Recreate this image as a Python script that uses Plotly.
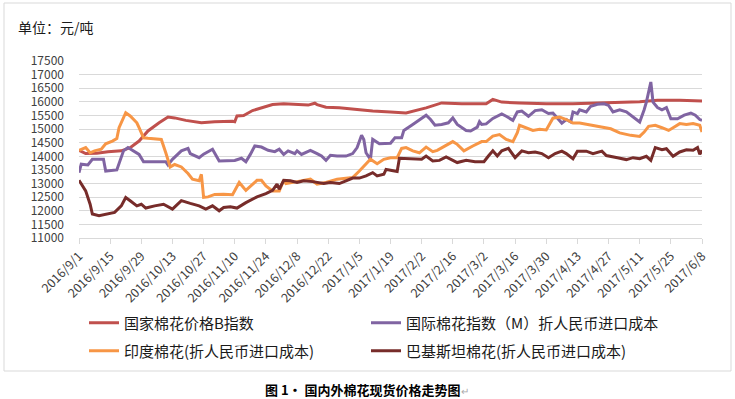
import pandas as pd
import plotly.graph_objects as go

start_date = "2016-09-01"

# 国家棉花价格B指数 (days since 2016-09-01, 元/吨)
days_cn = [0, 3, 8, 13, 19, 23, 27, 31, 36, 40, 43, 48, 55, 61, 69, 70, 71, 74, 78, 83, 87, 92,
           98, 103, 106, 107, 111, 117, 125, 132, 140, 147, 156, 163, 172, 183, 186, 190, 198,
           210, 222, 237, 252, 260, 270, 280]
val_cn = [14220, 14100, 14110, 14170, 14200, 14320, 14560, 14930, 15230, 15440, 15410, 15320,
          15230, 15270, 15290, 15270, 15480, 15500, 15680, 15800, 15900, 15930, 15900, 15880,
          15950, 15900, 15800, 15780, 15720, 15660, 15630, 15590, 15780, 15960, 15930, 15930,
          16090, 15990, 15960, 15930, 15930, 15970, 16000, 16060, 16060, 16030]

# 国际棉花指数（M）折人民币进口成本
days_intl = [0, 1, 4, 6, 11, 12, 17, 20, 22, 27, 29, 39, 40, 42, 46, 49, 50, 54, 56, 60, 63, 67,
             70, 73, 75, 77, 79, 82, 85, 88, 90, 92, 94, 97, 98, 100, 104, 107, 109, 111, 113,
             116, 120, 123, 125, 127, 128, 129, 131, 132, 135, 140, 142, 145, 146, 150, 153, 156,
             158, 160, 163, 166, 168, 170, 174, 176, 179, 180, 181, 183, 186, 190, 192, 195, 197,
             199, 202, 205, 208, 211, 213, 216, 217, 219, 221, 222, 224, 225, 228, 230, 233, 236,
             238, 240, 243, 246, 248, 251, 252, 254, 255, 257, 258, 260, 262, 264, 266, 269, 272,
             275, 277, 279, 280]
val_intl = [13400, 13710, 13680, 13890, 13890, 13460, 13500, 14200, 14320, 14070, 13800, 13800,
            13680, 13890, 14200, 14290, 14100, 13950, 14080, 14260, 13830, 13850, 13850, 13930,
            13800, 14070, 14380, 14340, 14220, 14170, 14260, 14070, 14200, 14100, 14200, 14070,
            14220, 14100, 14010, 13850, 14040, 14010, 14010, 14100, 14320, 14770, 14620, 14130,
            13890, 14620, 14460, 14480, 14680, 14680, 14950, 15170, 15350, 15510, 15350, 15140,
            15170, 15230, 15410, 15170, 14950, 14930, 15070, 15270, 15170, 15190, 15390, 15560,
            15470, 15320, 15630, 15660, 15470, 15680, 15710, 15570, 15590, 15320, 15220, 15350,
            15260, 15630, 15570, 15710, 15630, 15840, 15910, 15930, 15870, 15630, 15710, 15630,
            15510, 15320, 15260, 15710, 15990, 16730, 15990, 15790, 15710, 15790, 15380, 15380,
            15510, 15590, 15510, 15350, 15320]

# 印度棉花(折人民币进口成本)
days_in = [0, 3, 5, 7, 10, 12, 15, 17, 18, 21, 23, 26, 27, 29, 31, 37, 39, 41, 43, 46, 49, 51,
           54, 55, 56, 58, 61, 65, 69, 70, 72, 75, 78, 80, 82, 84, 87, 90, 92, 93, 98, 104, 107,
           111, 116, 120, 123, 126, 129, 131, 134, 137, 140, 143, 145, 147, 150, 153, 156, 159,
           161, 165, 168, 170, 173, 177, 181, 183, 186, 189, 192, 195, 197, 198, 201, 204, 207,
           210, 213, 216, 219, 222, 225, 230, 234, 239, 243, 248, 252, 254, 256, 259, 262, 265,
           267, 270, 273, 276, 279, 280]
val_in = [14220, 14320, 14130, 14200, 14260, 14460, 14560, 14650, 15050, 15600, 15480, 15230,
          15050, 14680, 14660, 14620, 14130, 13610, 13700, 13610, 13370, 13160, 13100, 13340,
          12490, 12510, 12600, 12610, 12590, 12730, 13040, 12750, 12980, 13120, 13120, 12910,
          12730, 12730, 13120, 13000, 13070, 13160, 12980, 13040, 13160, 13200, 13220, 13460,
          13700, 13890, 13730, 13890, 13950, 13950, 14290, 14320, 14200, 14130, 14340, 14170,
          14220, 14410, 14540, 14440, 14200, 14380, 14540, 14540, 14740, 14800, 14620, 14540,
          14870, 15140, 15050, 14950, 14990, 14970, 15400, 15440, 15350, 15220, 15220, 15140,
          15080, 15010, 14860, 14770, 14730, 14890, 15100, 15140, 15050, 14950, 15050, 15200,
          15170, 15200, 15140, 14890]

# 巴基斯坦棉花(折人民币进口成本)
days_pk = [0, 3, 5, 6, 9, 12, 16, 19, 21, 23, 26, 28, 30, 34, 38, 42, 46, 50, 54, 57, 60, 63,
           65, 68, 71, 75, 80, 84, 87, 89, 90, 92, 95, 98, 101, 105, 110, 113, 117, 120, 123,
           126, 129, 132, 134, 137, 138, 140, 142, 143, 144, 150, 154, 156, 159, 162, 165, 170,
           174, 178, 182, 184, 186, 188, 190, 193, 196, 199, 202, 205, 208, 211, 214, 217, 219,
           222, 224, 228, 231, 235, 237, 242, 246, 249, 252, 255, 257, 259, 262, 264, 267, 270,
           273, 276, 278, 279, 280]
val_pk = [13120, 12730, 12240, 11880, 11820, 11880, 11940, 12180, 12490, 12370, 12180, 12240,
          12100, 12180, 12240, 12060, 12370, 12270, 12180, 12060, 12180, 12000, 12120, 12150,
          12100, 12300, 12510, 12630, 12750, 12980, 12790, 13120, 13100, 13040, 13100, 13070,
          13000, 13040, 13000, 13100, 13200, 13200, 13280, 13400, 13280, 13340, 13520, 13490,
          13460, 13440, 13930, 13890, 13890, 14010, 13830, 13850, 13980, 13770, 13850, 13800,
          13800, 14010, 14200, 14010, 14200, 14290, 13950, 14200, 14130, 14160, 14100, 13950,
          14100, 14190, 14100, 13910, 14190, 14190, 14100, 14190, 14030, 13950, 13880, 13950,
          13910, 14000, 13850, 14320, 14240, 14280, 14000, 14160, 14240, 14220, 14320, 14070,
          14220]

series_names = ["国家棉花价格B指数", "国际棉花指数（M）折人民币进口成本",
                "印度棉花(折人民币进口成本)", "巴基斯坦棉花(折人民币进口成本)"]
series_colors = ["#C0504D", "#8064A2", "#F79646", "#772C2A"]
series_legends = ["legend", "legend2", "legend3", "legend4"]

unit_label = "单位：元/吨"
caption = "图 1· 国内外棉花现货价格走势图"

FONT = "Noto Sans CJK SC, Noto Sans, sans-serif"
base = pd.Timestamp(start_date)


def to_dates(days):
    return base + pd.to_timedelta(days, unit="D")


fig = go.Figure()
for d, v, name, color, lg in zip([days_cn, days_intl, days_in, days_pk],
                                 [val_cn, val_intl, val_in, val_pk],
                                 series_names, series_colors, series_legends):
    fig.add_trace(go.Scatter(x=to_dates(d), y=v, mode="lines", name=name, showlegend=True,
                             line=dict(color=color, width=3), legend=lg))

W, H = 623, 177  # plot area px
L, T = 79, 61


def px_x(px):
    return (px - L) / W


def px_y(py):
    return (T + H - py) / H


legend_common = dict(orientation="h", xanchor="left", yanchor="middle", visible=True,
                     font=dict(family=FONT, size=15, color="#1a1a1a"),
                     bgcolor="rgba(0,0,0,0)", itemwidth=30)

fig.update_layout(
    width=735, height=399,
    showlegend=True,
    margin=dict(l=L, r=735 - L - W, t=T, b=399 - T - H),
    paper_bgcolor="white", plot_bgcolor="white",
    font=dict(family=FONT, color="#404040"),
    legend=dict(x=px_x(84), y=px_y(323), **legend_common),
    legend2=dict(x=px_x(366), y=px_y(323), **legend_common),
    legend3=dict(x=px_x(84), y=px_y(351), **legend_common),
    legend4=dict(x=px_x(366), y=px_y(351), **legend_common),
    xaxis=dict(type="date", range=[start_date, "2017-06-08"],
               tick0=start_date, dtick=14 * 86400000, tickformat="%Y/%-m/%-d",
               tickangle=-45, showgrid=False, showline=True, linecolor="#d9d9d9",
               ticks="outside", ticklen=5, tickcolor="#d9d9d9",
               tickfont=dict(family=FONT, size=12.5, color="#404040")),
    yaxis=dict(range=[11000, 17500], dtick=500, tick0=11000, tickformat="d",
               showgrid=True, gridcolor="#d9d9d9", gridwidth=1, showline=False,
               zeroline=False, ticks="", ticklabelstandoff=14,
               tickfont=dict(family=FONT, size=12, color="#404040")),
    shapes=[dict(type="rect", xref="paper", yref="paper",
                 x0=px_x(4), x1=px_x(731), y0=px_y(371), y1=px_y(3),
                 line=dict(color="#d9d9d9", width=1), layer="below")],
    annotations=[
        dict(text=unit_label, xref="paper", yref="paper", x=px_x(16), y=px_y(27),
             xanchor="left", yanchor="middle", showarrow=False,
             font=dict(family=FONT, size=14, color="#1a1a1a")),
        dict(text="<b>" + caption + "</b>" + "<span style='color:#aaaaaa;font-size:10px'>↵</span>",
             xref="paper", yref="paper", x=px_x(367), y=px_y(389),
             xanchor="center", yanchor="middle", showarrow=False,
             font=dict(family=FONT, size=13, color="#000000")),
    ],
)

fig.write_html("out.html", config={"displayModeBar": False},
               post_script="document.body.style.margin='0';")
